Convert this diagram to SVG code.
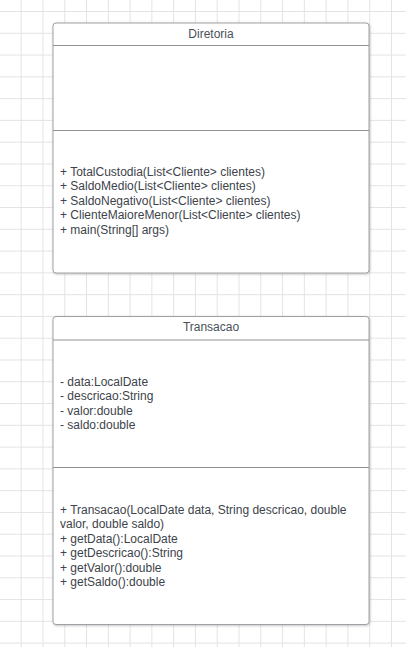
<svg xmlns="http://www.w3.org/2000/svg" width="406" height="647" viewBox="0 0 406 647">
<defs>
<pattern id="grid" x="20.7" y="11" width="21.78" height="21.78" patternUnits="userSpaceOnUse">
<path d="M0.5 0 V21.78 M0 0.5 H21.78" fill="none" stroke="#e3e3e3" stroke-width="1"/>
</pattern>
<filter id="sh" x="-5%" y="-5%" width="110%" height="110%">
<feDropShadow dx="0.6" dy="0.8" stdDeviation="0.8" flood-color="#000" flood-opacity="0.25"/>
</filter>
</defs>
<style>
.box{fill:#ffffff;stroke:#9ea2a6;stroke-width:1}
.sep{stroke:#8f9398;stroke-width:1}
.t{font-family:"Liberation Sans",Arial,sans-serif;font-size:12px;fill:#3d434a}
.h{font-family:"Liberation Sans",Arial,sans-serif;font-size:12px;fill:#4a5058;text-anchor:middle}
</style>
<rect width="406" height="647" fill="#ffffff"/>
<rect width="406" height="647" fill="url(#grid)"/>
<g id="Diretoria">
<rect class="box" x="53" y="23" width="316" height="250" rx="3" filter="url(#sh)"/>
<line class="sep" x1="53" y1="45.5" x2="369" y2="45.5"/>
<line class="sep" x1="53" y1="130.5" x2="369" y2="130.5"/>
<text class="h" x="211" y="37.5">Diretoria</text>
<text class="t" x="60" y="175.5">+ TotalCustodia(List&lt;Cliente&gt; clientes)</text>
<text class="t" x="60" y="190">+ SaldoMedio(List&lt;Cliente&gt; clientes)</text>
<text class="t" x="60" y="204.5">+ SaldoNegativo(List&lt;Cliente&gt; clientes)</text>
<text class="t" x="60" y="219">+ ClienteMaioreMenor(List&lt;Cliente&gt; clientes)</text>
<text class="t" x="60" y="233.5">+ main(String[] args)</text>
</g>
<g id="Transacao">
<rect class="box" x="53" y="316.5" width="316" height="308" rx="3" filter="url(#sh)"/>
<line class="sep" x1="53" y1="340" x2="369" y2="340"/>
<line class="sep" x1="53" y1="467.5" x2="369" y2="467.5"/>
<text class="h" x="211" y="331">Transacao</text>
<text class="t" x="60" y="385.5">- data:LocalDate</text>
<text class="t" x="60" y="400">- descricao:String</text>
<text class="t" x="60" y="414.5">- valor:double</text>
<text class="t" x="60" y="429">- saldo:double</text>
<text class="t" x="60" y="513.5">+ Transacao(LocalDate data, String descricao, double</text>
<text class="t" x="60" y="528">valor, double saldo)</text>
<text class="t" x="60" y="542.5">+ getData():LocalDate</text>
<text class="t" x="60" y="557">+ getDescricao():String</text>
<text class="t" x="60" y="571.5">+ getValor():double</text>
<text class="t" x="60" y="586">+ getSaldo():double</text>
</g>
<g id="connectors"></g>
</svg>
